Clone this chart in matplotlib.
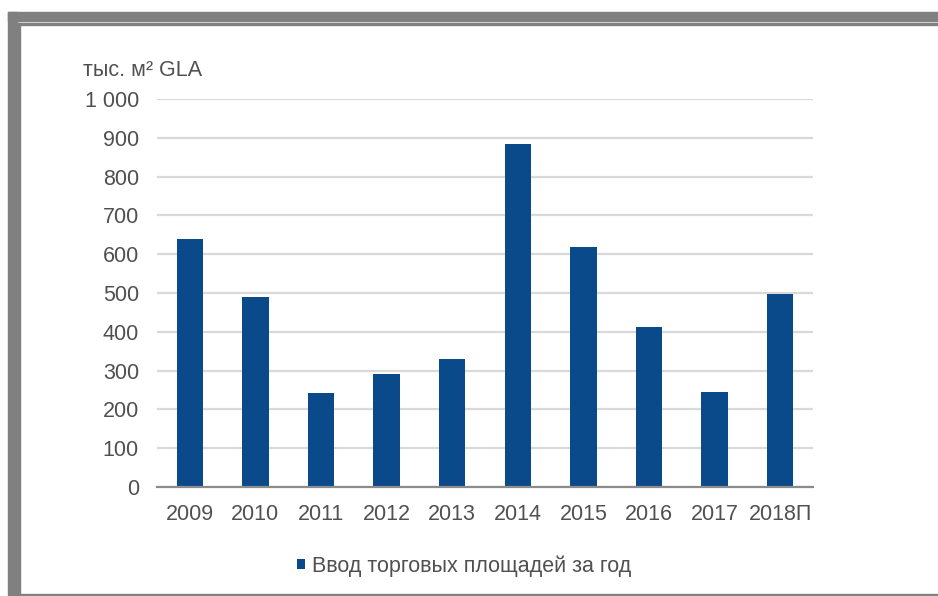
import matplotlib
matplotlib.use("Agg")
import matplotlib.pyplot as plt
from matplotlib.patches import Rectangle

plt.rcParams['font.family'] = ['Liberation Sans', 'DejaVu Sans']

# data
years = ['2009', '2010', '2011', '2012', '2013', '2014', '2015', '2016', '2017', '2018П']
values = [638, 490, 242, 290, 329, 884, 619, 413, 244, 498]
y_ticks = [0, 100, 200, 300, 400, 500, 600, 700, 800, 900, 1000]
y_tick_labels = ['0', '100', '200', '300', '400', '500', '600', '700', '800', '900', '1 000']
series_name = 'Ввод торговых площадей за год'
unit_label = 'тыс. м² GLA'

W, H = 938, 596
fig = plt.figure(figsize=(W / 100, H / 100), dpi=100)
fig.patch.set_facecolor('white')

# axes placed by pixel box: left 157, right 813, top 99, bottom 487
ax = fig.add_axes([157 / W, (H - 487) / H, 656 / W, 388 / H])

bar_color = '#0b4a8a'
text_color = '#505050'
x_pos = range(len(years))
ax.bar(x_pos, values, width=0.4, color=bar_color, label=series_name, zorder=3)

ax.set_xlim(-0.5, len(years) - 0.5)
ax.set_ylim(0, 1000)
ax.set_yticks(y_ticks)
ax.set_yticklabels(y_tick_labels)
ax.set_xticks(list(x_pos))
ax.set_xticklabels(years)

ax.grid(axis='y', color='#d9d9d9', linewidth=1.6, zorder=0)
for side in ['top', 'right', 'left']:
    ax.spines[side].set_visible(False)
ax.spines['bottom'].set_color('#8c8c8c')
ax.spines['bottom'].set_linewidth(1.6)
ax.spines['bottom'].set_zorder(4)

ax.tick_params(axis='both', length=0, labelsize=15.5, labelcolor=text_color)
ax.tick_params(axis='y', pad=13)
ax.tick_params(axis='x', pad=12)

# unit label above the y axis
fig.text(83 / W, 1 - 70 / H, unit_label, fontsize=15.5, color=text_color,
         ha='left', va='center')

# legend under the chart
fig.legend(loc='center', bbox_to_anchor=(464 / W, 1 - 566 / H), frameon=False,
           fontsize=15.5, labelcolor=text_color, handlelength=0.4, handleheight=0.4,
           handletextpad=0.3)

# grey frame of the screenshot
gray = '#808080'
def px_rect(x0, y0, x1, y1):
    fig.patches.append(Rectangle((x0 / W, 1 - y1 / H), (x1 - x0) / W, (y1 - y0) / H,
                                 transform=fig.transFigure, color=gray, zorder=10))

px_rect(8, 12, W, 21)      # top thick band
px_rect(18, 23, W, 25)     # top thin line
px_rect(8, 12, 17, H)      # left thick band
px_rect(18, 23, 20, H)     # left thin line
px_rect(18, 594, W, H)     # bottom line

fig.savefig('out.png', dpi=100, facecolor='white')
